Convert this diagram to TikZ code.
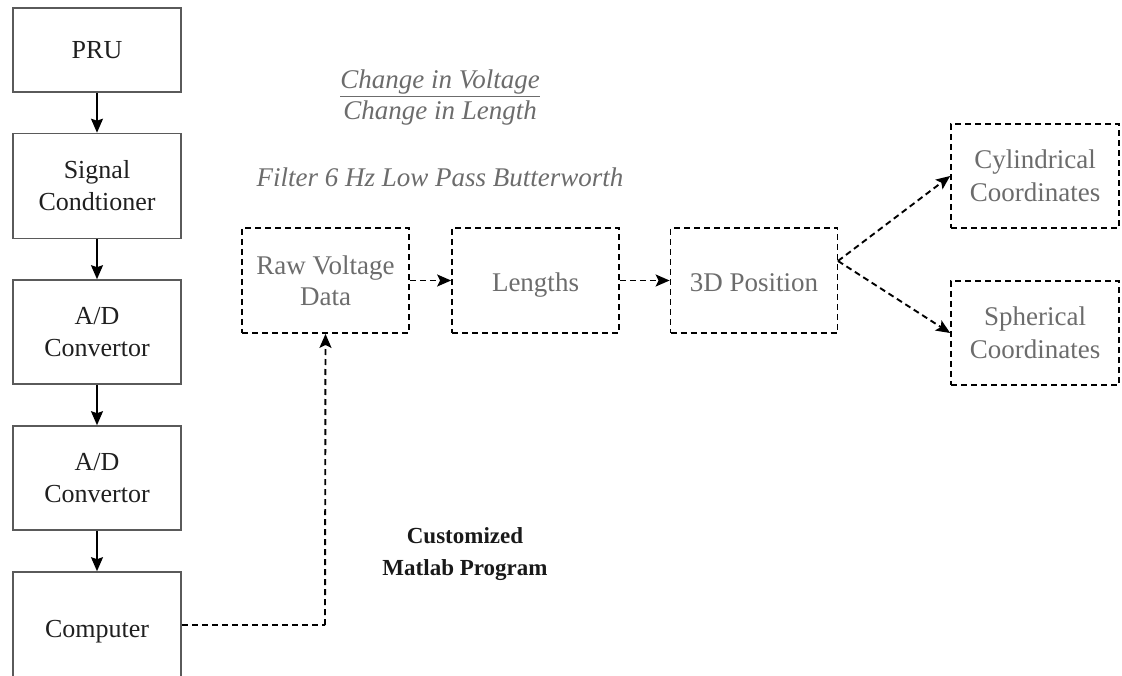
\documentclass[tikz,border=0pt]{standalone}
\usepackage{fontspec}
\setmainfont{Liberation Serif}
\usetikzlibrary{arrows.meta}
\definecolor{frameg}{HTML}{5A5A5A}
\definecolor{softtext}{HTML}{6C6C6C}
\begin{document}
\begin{tikzpicture}[x=1pt,y=-1pt,
  solidbox/.style={draw=frameg,line width=1.6pt,minimum width=168pt,minimum height=104pt,
    align=center,font=\fontsize{26}{32}\selectfont,text=black!88,inner sep=0pt},
  dashbox/.style={draw=black,line width=1.8pt,dash pattern=on 6pt off 4pt,
    minimum width=167pt,minimum height=105pt,align=center,
    font=\fontsize{27}{31}\selectfont,text=softtext,inner sep=0pt},
  oneline/.style={text height=23pt,text depth=0pt},
  solidarrow/.style={draw=black,line width=1.6pt,-{Stealth[length=14pt,width=12pt,inset=2pt]}},
  dasharrow/.style={draw=black,line width=1.9pt,dash pattern=on 6pt off 4pt,-{Stealth[length=14pt,width=12pt,inset=3pt]}},
  dashline/.style={draw=black,line width=1.9pt,dash pattern=on 6pt off 4pt},
  note/.style={font=\fontsize{27}{31}\selectfont\itshape,text=softtext,align=center,inner sep=0pt}
]
\useasboundingbox (0,0) rectangle (1122,676);

% signal acquisition chain
\node[solidbox,minimum height=84pt] (pru) at (97,50) {PRU};
\node[solidbox,minimum height=105pt] (sig) at (97,186) {Signal\\Condtioner};
\node[solidbox] (ad1) at (97,332) {A/D\\Convertor};
\node[solidbox] (ad2) at (97,478) {A/D\\Convertor};
\node[solidbox,minimum height=110pt,text height=20pt,text depth=0pt] (comp) at (97,627) {Computer};

\draw[solidarrow] (pru) -- (sig);
\draw[solidarrow] (sig) -- (ad1);
\draw[solidarrow] (ad1) -- (ad2);
\draw[solidarrow] (ad2) -- (comp.north);

% processing steps
\node[dashbox,text depth=-5pt] (raw) at (325.5,280.5) {Raw Voltage\\Data};
\node[dashbox,oneline] (len) at (535.5,280.5) {Lengths};
\node[dashbox,oneline] (pos) at (754,280.5) {3D Position};
\node[dashbox,minimum width=168pt,minimum height=104pt,font=\fontsize{27}{33}\selectfont] (cyl) at (1035,176) {Cylindrical\\Coordinates};
\node[dashbox,minimum width=168pt,minimum height=104pt,font=\fontsize{27}{33}\selectfont] (sph) at (1035,333) {Spherical\\Coordinates};

\draw[dasharrow] (raw) -- (len);
\draw[dasharrow] (len) -- (pos);
\coordinate (split) at (838,261);
\draw[dasharrow] (split) -- (cyl.west);
\draw[dasharrow] (split) -- (sph.west);

% data path from the computer into the program
\coordinate (bend) at (325,625);
\draw[dashline] (comp.east |- bend) -- (bend);
\draw[dasharrow] (bend) -- (raw.south);

% annotations
\node[note] (eq) at (440,98) {\underline{Change in Voltage}\\Change in Length};
\node[note] (filt) at (440,177) {Filter 6 Hz Low Pass Butterworth};
\node[font=\fontsize{23}{32}\selectfont\bfseries,align=center,inner sep=0pt,text=black!90] (prog) at (465,554) {Customized\\Matlab Program};
\end{tikzpicture}
\end{document}
